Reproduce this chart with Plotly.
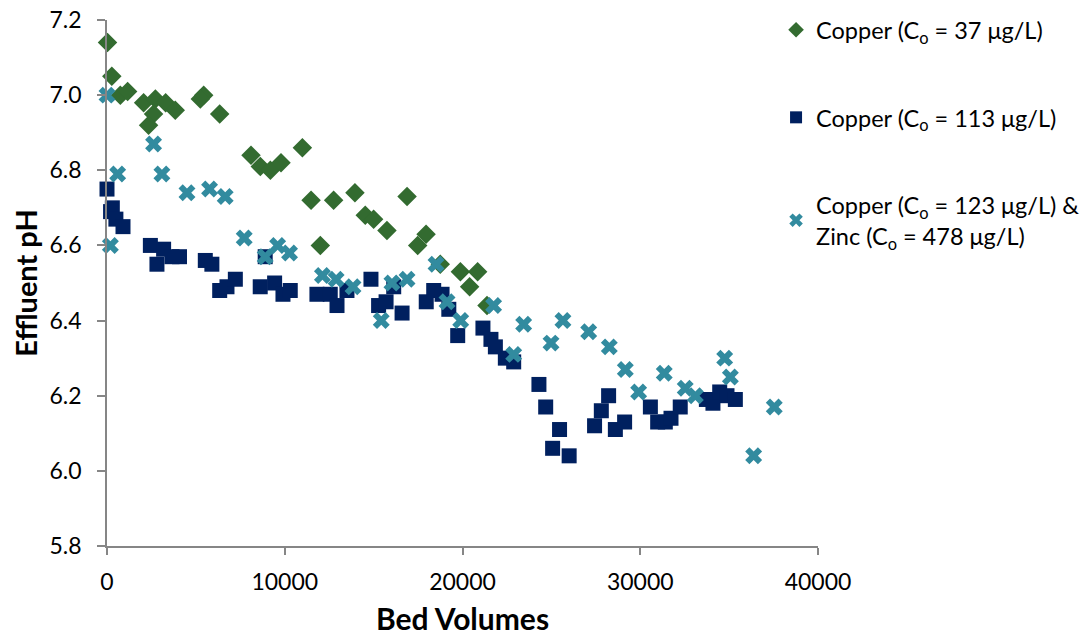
import plotly.graph_objects as go

# Copper (Co = 37 ug/L)
cu37_x = [30, 270, 750, 1160, 2060, 2720, 3300, 2620, 2340, 3840, 5440, 5250, 6340,
          8100, 8625, 9190, 9790, 10990, 11480, 12750, 12000, 13950, 14530, 15000,
          15750, 16880, 17950, 17480, 18750, 19880, 20850, 20400, 21380]
cu37_y = [7.14, 7.05, 7.00, 7.01, 6.98, 6.99, 6.98, 6.95, 6.92, 6.96, 7.00, 6.99, 6.95,
          6.84, 6.81, 6.80, 6.82, 6.86, 6.72, 6.72, 6.60, 6.74, 6.68, 6.67,
          6.64, 6.73, 6.63, 6.60, 6.55, 6.53, 6.53, 6.49, 6.44]

# Copper (Co = 113 ug/L)
cu113_x = [0, 200, 300, 500, 900, 2440, 3185, 2810, 3655, 4080, 5530, 5900, 6340, 6750,
           7220, 8620, 9430, 9900, 10310, 8900, 11810, 12560, 12940, 13500, 14850,
           15280, 15700, 16130, 16600, 17960, 18380, 18850, 19230, 19730, 21150, 21600,
           21850, 22410, 22880, 24300, 24680, 25070, 25460, 26000, 27430, 27810, 28220,
           28600, 29120, 30570, 30980, 31410, 31730, 32250, 33720, 34090, 34470, 34880,
           35350]
cu113_y = [6.75, 6.69, 6.70, 6.67, 6.65, 6.60, 6.59, 6.55, 6.57, 6.57, 6.56, 6.55, 6.48, 6.49,
           6.51, 6.49, 6.50, 6.47, 6.48, 6.57, 6.47, 6.47, 6.44, 6.48, 6.51,
           6.44, 6.45, 6.49, 6.42, 6.45, 6.48, 6.47, 6.43, 6.36, 6.38, 6.35,
           6.33, 6.30, 6.29, 6.23, 6.17, 6.06, 6.11, 6.04, 6.12, 6.16, 6.20,
           6.11, 6.13, 6.17, 6.13, 6.13, 6.14, 6.17, 6.19, 6.18, 6.21, 6.20,
           6.19]

# Copper (Co = 123 ug/L) & Zinc (Co = 478 ug/L)
cuzn_x = [0, 190, 600, 2620, 3090, 4500, 5770, 6650, 7720, 8900, 9600, 10270, 12120,
          12890, 13840, 15430, 16030, 16880, 18510, 19130, 19900, 21750, 22880, 23440,
          24980, 25650, 27100, 28260, 29160, 29910, 31350, 32530, 33100, 34750, 35070,
          36380, 37540]
cuzn_y = [7.00, 6.60, 6.79, 6.87, 6.79, 6.74, 6.75, 6.73, 6.62, 6.57, 6.60, 6.58, 6.52,
          6.51, 6.49, 6.40, 6.50, 6.51, 6.55, 6.45, 6.40, 6.44, 6.31, 6.39,
          6.34, 6.40, 6.37, 6.33, 6.27, 6.21, 6.26, 6.22, 6.20, 6.30, 6.25,
          6.04, 6.17]

x_ticks = [0, 10000, 20000, 30000, 40000]
y_ticks = [5.8, 6.0, 6.2, 6.4, 6.6, 6.8, 7.0, 7.2]

names = ["Copper (C<sub>o</sub> = 37 μg/L)",
         "Copper (C<sub>o</sub> = 113 μg/L)",
         "Copper (C<sub>o</sub> = 123 μg/L) &<br>Zinc (C<sub>o</sub> = 478 μg/L)"]

FONT = "Lato"
fig = go.Figure()
fig.add_trace(go.Scatter(x=cu37_x, y=cu37_y, mode="markers", name=names[0], legendgroup="a",
                         cliponaxis=False,
                         marker=dict(symbol="diamond", size=15, color="#336B30")))
fig.add_trace(go.Scatter(x=cu113_x, y=cu113_y, mode="markers", name=names[1], legendgroup="b",
                         cliponaxis=False,
                         marker=dict(symbol="square", size=15, color="#00205F")))
fig.add_trace(go.Scatter(x=cuzn_x, y=cuzn_y, mode="markers", name=names[2], legendgroup="c",
                         cliponaxis=False,
                         marker=dict(symbol="x", size=15, color="#328B9F",
                                     line=dict(width=0))))

fig.update_layout(
    width=1083, height=631,
    paper_bgcolor="white", plot_bgcolor="white",
    margin=dict(l=99, r=273, t=12, b=93, autoexpand=False),
    font=dict(family=FONT, size=23, color="black"),
    legend=dict(x=0.941, xanchor="left", y=1.0228, yanchor="top",
                font=dict(family=FONT, size=23.5, color="black"),
                tracegroupgap=54, itemsizing="constant",
                bgcolor="rgba(0,0,0,0)"),
    xaxis=dict(range=[0, 40000], tickvals=x_ticks, tickformat="d", automargin=False,
               showgrid=False, zeroline=False, showline=True, linecolor="#868686",
               linewidth=1.5, ticks="outside", ticklen=7, tickcolor="#868686",
               tickwidth=1.5, ticklabelstandoff=8, ticklabeloverflow="allow",
               title=dict(text="<b>Bed Volumes</b>", font=dict(family=FONT, size=30),
                          standoff=15)),
    yaxis=dict(range=[5.8, 7.2], tickvals=y_ticks, tickformat=".1f", automargin=False,
               showgrid=False, zeroline=False, showline=True, linecolor="#868686",
               linewidth=1.5, ticks="outside", ticklen=8, tickcolor="#868686",
               tickwidth=1.5, ticklabelstandoff=11, ticklabeloverflow="allow",
               title=dict(text="<b>Effluent pH</b>", font=dict(family=FONT, size=29),
                          standoff=16)),
)

fig.write_html("out.html")
